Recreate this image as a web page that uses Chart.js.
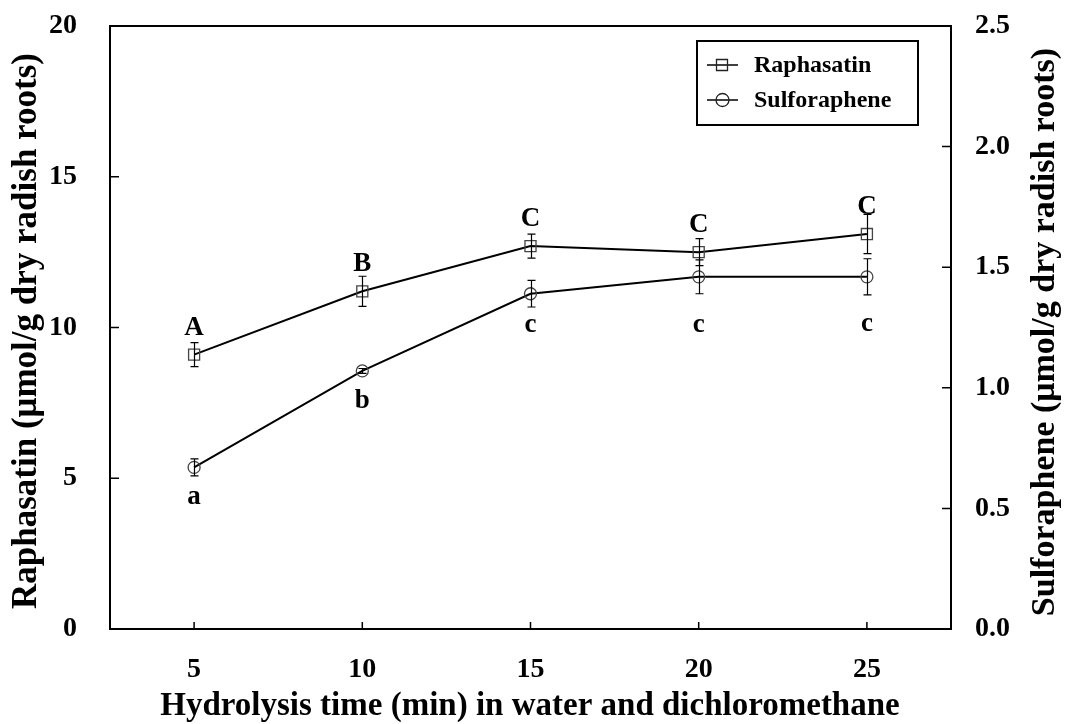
<!DOCTYPE html>
<html>
<head>
<meta charset="utf-8">
<script src="https://cdn.jsdelivr.net/npm/chart.js@4/dist/chart.umd.min.js"></script>
<style>
  html, body { margin: 0; padding: 0; background: #fff; }
  canvas { display: block; }
</style>
</head>
<body>
<canvas id="graph" width="1068" height="724"></canvas>
<script>
// hydrolysis time (min)
var times = [5, 10, 15, 20, 25];
// raphasatin, left axis
var raphasatin = [9.1, 11.2, 12.7, 12.5, 13.1];
var raphasatinSd = [0.4, 0.5, 0.4, 0.45, 0.65];
// sulforaphene, right axis
var sulforaphene = [0.67, 1.07, 1.39, 1.46, 1.46];
var sulforapheneSd = [0.035, 0.01, 0.055, 0.07, 0.075];
// significance letters
var upperLetters = ['A', 'B', 'C', 'C', 'C'];
var lowerLetters = ['a', 'b', 'c', 'c', 'c'];
// tick values
var leftTicks = [0, 5, 10, 15, 20];
var rightTicks = [0, 0.5, 1.0, 1.5, 2.0, 2.5];

var SERIF = '"Liberation Serif", "Times New Roman", serif';
// label offsets in px below the sulforaphene points
var lowerDy = [30, 30, 31, 48, 47];

function pts(vals) {
    var out = [];
    for (var i = 0; i < times.length; i++) out.push({ x: times[i], y: vals[i] });
    return out;
}

// fixed axis sizes so the plot box lands at the same spot
function fitY(width) {
    return function (s) { s.width = width; s.paddingTop = 0; s.paddingBottom = 0; };
}

var extras = {
    id: 'extras',
    afterDatasetsDraw: function (chart) {
        var ctx = chart.ctx;
        var sx = chart.scales.x;
        ctx.save();
        ctx.strokeStyle = '#000';
        ctx.lineWidth = 1.2;
        // error bars
        function bars(vals, sd, scale) {
            for (var i = 0; i < times.length; i++) {
                var px = Math.round(sx.getPixelForValue(times[i])) + 0.5;
                var top = scale.getPixelForValue(vals[i] + sd[i]);
                var bot = scale.getPixelForValue(vals[i] - sd[i]);
                ctx.beginPath();
                ctx.moveTo(px, top); ctx.lineTo(px, bot);
                ctx.moveTo(px - 4, top); ctx.lineTo(px + 4, top);
                ctx.moveTo(px - 4, bot); ctx.lineTo(px + 4, bot);
                ctx.stroke();
            }
        }
        bars(raphasatin, raphasatinSd, chart.scales.y);
        bars(sulforaphene, sulforapheneSd, chart.scales.y1);
        ctx.restore();
    },
    afterDraw: function (chart) {
        var ctx = chart.ctx;
        var a = chart.chartArea;
        var sx = chart.scales.x, yl = chart.scales.y, yr = chart.scales.y1;
        ctx.save();
        // frame
        ctx.strokeStyle = '#000';
        ctx.lineWidth = 2;
        ctx.strokeRect(a.left, a.top, a.right - a.left, a.bottom - a.top);
        // inward tick marks
        ctx.lineWidth = 1.5;
        ctx.beginPath();
        leftTicks.forEach(function (v) {
            var py = yl.getPixelForValue(v);
            ctx.moveTo(a.left, py); ctx.lineTo(a.left + 9, py);
        });
        rightTicks.forEach(function (v) {
            var py = yr.getPixelForValue(v);
            ctx.moveTo(a.right, py); ctx.lineTo(a.right - 9, py);
        });
        times.forEach(function (v) {
            var px = sx.getPixelForValue(v);
            ctx.moveTo(px, a.bottom); ctx.lineTo(px, a.bottom - 7);
        });
        ctx.stroke();

        // letters above / below the points
        ctx.fillStyle = '#000';
        ctx.font = 'bold 27px ' + SERIF;
        ctx.textAlign = 'center';
        ctx.textBaseline = 'middle';
        for (var i = 0; i < times.length; i++) {
            var px = sx.getPixelForValue(times[i]);
            ctx.fillText(upperLetters[i], px, yl.getPixelForValue(raphasatin[i]) - 27);
            ctx.fillText(lowerLetters[i], px, yr.getPixelForValue(sulforaphene[i]) + lowerDy[i]);
        }

        // axis titles
        ctx.font = 'bold 33px ' + SERIF;
        ctx.fillText('Hydrolysis time (min) in water and dichloromethane', 530, 706);
        ctx.save();
        ctx.font = 'bold 35px ' + SERIF;
        ctx.translate(27, 331);
        ctx.rotate(-Math.PI / 2);
        ctx.fillText('Raphasatin (\u03bcmol/g dry radish roots)', 0, 0);
        ctx.restore();
        ctx.save();
        ctx.font = 'bold 34px ' + SERIF;
        ctx.translate(1045, 332);
        ctx.rotate(-Math.PI / 2);
        ctx.fillText('Sulforaphene (\u03bcmol/g dry radish roots)', 0, 0);
        ctx.restore();

        // legend
        ctx.lineWidth = 2;
        ctx.strokeRect(697, 41, 221, 84);
        var rows = [65, 100];
        chart.data.datasets.forEach(function (ds, k) {
            var y = rows[k];
            ctx.strokeStyle = '#000';
            ctx.lineWidth = 1.5;
            ctx.beginPath();
            ctx.moveTo(707, y); ctx.lineTo(738, y);
            ctx.stroke();
            ctx.lineWidth = 1.3;
            ctx.strokeStyle = '#222';
            ctx.beginPath();
            if (ds.pointStyle === 'rect') ctx.rect(716.5, y - 5.5, 11, 11);
            else ctx.arc(722.5, y, 6.5, 0, Math.PI * 2);
            ctx.stroke();
            ctx.fillStyle = '#000';
            ctx.font = 'bold 24px ' + SERIF;
            ctx.textAlign = 'left';
            ctx.fillText(ds.label, 754, y + 1);
        });
        ctx.restore();
    }
};

new Chart(document.getElementById('graph'), {
    type: 'line',
    data: {
        datasets: [{
            label: 'Raphasatin',
            data: pts(raphasatin),
            yAxisID: 'y',
            borderColor: '#000',
            borderWidth: 2,
            pointStyle: 'rect',
            pointRadius: 7.8,
            pointBorderColor: '#444',
            pointBorderWidth: 1.3,
            pointBackgroundColor: 'rgba(0,0,0,0)',
            tension: 0
        }, {
            label: 'Sulforaphene',
            data: pts(sulforaphene),
            yAxisID: 'y1',
            borderColor: '#000',
            borderWidth: 2,
            pointStyle: 'circle',
            pointRadius: 6,
            pointBorderColor: '#444',
            pointBorderWidth: 1.3,
            pointBackgroundColor: 'rgba(0,0,0,0)',
            tension: 0
        }]
    },
    options: {
        responsive: false,
        animation: false,
        layout: { padding: { top: 26, left: 0, right: 0, bottom: 0 } },
        plugins: { legend: { display: false }, tooltip: { enabled: false } },
        scales: {
            x: {
                type: 'linear',
                min: 2.5,
                max: 27.5,
                afterBuildTicks: function (s) { s.ticks = times.map(function (v) { return { value: v }; }); },
                afterFit: function (s) { s.height = 95; s.paddingLeft = 0; s.paddingRight = 0; },
                grid: { display: false, drawTicks: false },
                border: { display: false },
                ticks: { color: '#000', padding: 24, font: { family: SERIF, size: 28, weight: 'bold' } }
            },
            y: {
                position: 'left',
                min: 0,
                max: 20,
                afterBuildTicks: function (s) { s.ticks = leftTicks.map(function (v) { return { value: v }; }); },
                afterFit: fitY(110),
                grid: { display: false, drawTicks: false },
                border: { display: false },
                ticks: { color: '#000', padding: 33, font: { family: SERIF, size: 28, weight: 'bold' } }
            },
            y1: {
                position: 'right',
                min: 0,
                max: 2.5,
                afterBuildTicks: function (s) { s.ticks = rightTicks.map(function (v) { return { value: v }; }); },
                afterFit: fitY(117),
                grid: { display: false, drawTicks: false },
                border: { display: false },
                ticks: {
                    color: '#000', padding: 24, font: { family: SERIF, size: 28, weight: 'bold' },
                    callback: function (v) { return v.toFixed(1); }
                }
            }
        }
    },
    plugins: [extras]
});
</script>
</body>
</html>
